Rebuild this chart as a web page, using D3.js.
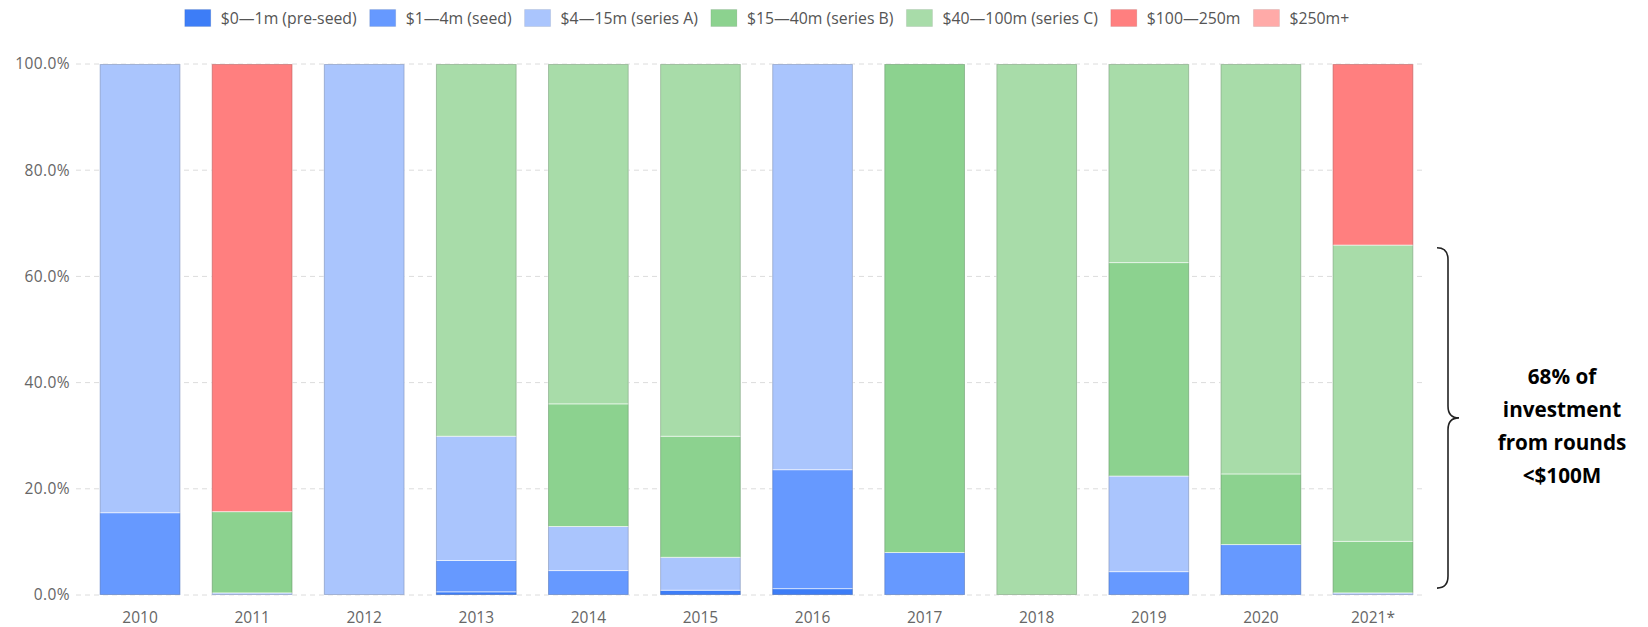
<!DOCTYPE html>
<html>
<head>
<meta charset="utf-8">
<script src="https://cdn.jsdelivr.net/npm/d3@7/dist/d3.min.js"></script>
<style>
  html, body { margin: 0; padding: 0; background: #fff; }
  svg { display: block; font-family: "Open Sans", sans-serif; }
</style>
</head>
<body>
<svg id="chart" width="1648" height="627"></svg>
<script>
// Share of investment by round size, per year (percent of that year's total)
const years = ["2010", "2011", "2012", "2013", "2014", "2015", "2016", "2017", "2018", "2019", "2020", "2021*"];
const seriesNames = ["$0\u20141m (pre-seed)", "$1\u20144m (seed)", "$4\u201415m (series A)", "$15\u201440m (series B)", "$40\u2014100m (series C)", "$100\u2014250m", "$250m+"];
const preSeed = [0, 0, 0, 0.6, 0, 0.9, 1.2, 0, 0, 0, 0, 0];
const seed    = [15.5, 0, 0, 5.9, 4.6, 0, 22.4, 8.0, 0, 4.4, 9.5, 0];
const seriesA = [84.5, 0.4, 100, 23.4, 8.3, 6.2, 76.4, 0, 0, 18.0, 0, 0.4];
const seriesB = [0, 15.3, 0, 0, 23.1, 22.8, 0, 92.0, 0, 40.2, 13.3, 9.7];
const seriesC = [0, 0, 0, 70.1, 64.0, 70.1, 0, 0, 100, 37.4, 77.2, 55.8];
const r100    = [0, 84.3, 0, 0, 0, 0, 0, 0, 0, 0, 0, 34.1];
const r250    = [0, 0, 0, 0, 0, 0, 0, 0, 0, 0, 0, 0];
const yTicks = [0, 20, 40, 60, 80, 100];
const colors = ["#3d7df7", "#6699ff", "#aac5fd", "#8cd28f", "#a8dca9", "#ff7f7f", "#ffaaa8"];
const noteLines = ["68% of", "investment", "from rounds", "<$100M"];

const seriesValues = [preSeed, seed, seriesA, seriesB, seriesC, r100, r250];
const keys = seriesNames.map((_, i) => "s" + i);
const rows = years.map((yr, j) => {
  const r = { year: yr };
  keys.forEach((k, i) => r[k] = seriesValues[i][j]);
  return r;
});
const stacked = d3.stack().keys(keys)(rows);

const svg = d3.select("#chart");
const gridLeft = 76, gridRight = 1426;
const axisFont = 15.5;

const x = d3.scaleBand().domain(years).range([84, 1429]).paddingInner(0.28).paddingOuter(0.14);
const y = d3.scaleLinear().domain([0, 100]).range([595, 64]);

// Horizontal dashed gridlines
svg.append("g").selectAll("line").data(yTicks).join("line")
  .attr("x1", gridLeft).attr("x2", gridRight)
  .attr("y1", d => y(d)).attr("y2", d => y(d))
  .attr("stroke", "#dcdcdc").attr("stroke-width", 1)
  .attr("stroke-dasharray", "5,4");

// Y axis labels
const yAxis = d3.axisLeft(y).tickValues(yTicks).tickSize(0).tickPadding(0)
  .tickFormat(d => d3.format(".1f")(d) + "%");
svg.append("g").attr("transform", "translate(70,0)").call(yAxis)
  .call(g => g.select(".domain").remove())
  .call(g => g.selectAll("text").attr("fill", "#666").attr("font-size", axisFont)
    .attr("letter-spacing", 0.4).attr("font-family", "Open Sans, sans-serif"));

// X axis labels
const xAxis = d3.axisBottom(x).tickSize(0).tickPadding(0);
svg.append("g").attr("transform", "translate(0,612)").call(xAxis)
  .call(g => g.select(".domain").remove())
  .call(g => g.selectAll("text").attr("fill", "#666").attr("font-size", axisFont).attr("font-family", "Open Sans, sans-serif"));

// Stacked segments
svg.append("g").selectAll("g").data(stacked).join("g")
  .attr("fill", (d, i) => colors[i])
  .selectAll("rect").data(d => d.filter(p => p[1] - p[0] > 0)).join("rect")
  .attr("x", d => x(d.data.year))
  .attr("width", x.bandwidth())
  .attr("y", d => y(d[1]))
  .attr("height", d => y(d[0]) - y(d[1]))
  .attr("stroke", "rgba(255,255,255,0.55)")
  .attr("stroke-width", 1);

// Thin outline around each full bar
svg.append("g").selectAll("rect").data(years).join("rect")
  .attr("x", d => x(d) + 0.5).attr("width", x.bandwidth() - 1)
  .attr("y", y(100) + 0.5).attr("height", y(0) - y(100) - 1)
  .attr("fill", "none").attr("stroke", "rgba(0,0,0,0.16)").attr("stroke-width", 1);

// Legend
const swW = 26, swH = 17, swGap = 10, itemGap = 13;
const legend = svg.append("g").attr("transform", "translate(0,18)");
const items = legend.selectAll("g").data(seriesNames).join("g");
items.append("rect").attr("width", swW).attr("height", swH).attr("y", -swH / 2)
  .attr("fill", (d, i) => colors[i]).attr("stroke", "rgba(0,0,0,0.08)");
items.append("text").attr("x", swW + swGap).attr("dy", "0.35em")
  .attr("fill", "#555").attr("font-size", 15.8).text(d => d);
const widths = [];
items.each(function () {
  widths.push(swW + swGap + this.querySelector("text").getComputedTextLength());
});
const total = d3.sum(widths) + itemGap * (widths.length - 1);
let cursor = 767 - total / 2;
items.attr("transform", (d, i) => {
  const t = `translate(${cursor},0)`;
  cursor += widths[i] + itemGap;
  return t;
});

// Brace marking rounds under $100M in the last year
const bx = 1437, braceTop = y(65.4), braceBot = y(1.3), braceMid = (braceTop + braceBot) / 2;
const brace = `M${bx},${braceTop} Q${bx + 11},${braceTop} ${bx + 11},${braceTop + 12} ` +
  `L${bx + 11},${braceMid - 12} Q${bx + 11},${braceMid} ${bx + 22},${braceMid} ` +
  `Q${bx + 11},${braceMid} ${bx + 11},${braceMid + 12} L${bx + 11},${braceBot - 12} ` +
  `Q${bx + 11},${braceBot} ${bx},${braceBot}`;
svg.append("path").attr("d", brace).attr("fill", "none")
  .attr("stroke", "#222").attr("stroke-width", 1.6);

// Annotation text
svg.append("text").attr("x", 1562).attr("y", 377)
  .attr("text-anchor", "middle").attr("font-weight", 700).attr("font-size", 20.7)
  .attr("fill", "#000")
  .selectAll("tspan").data(noteLines).join("tspan")
  .attr("x", 1562).attr("dy", (d, i) => i === 0 ? "0.35em" : 33).text(d => d);
</script>
</body>
</html>
